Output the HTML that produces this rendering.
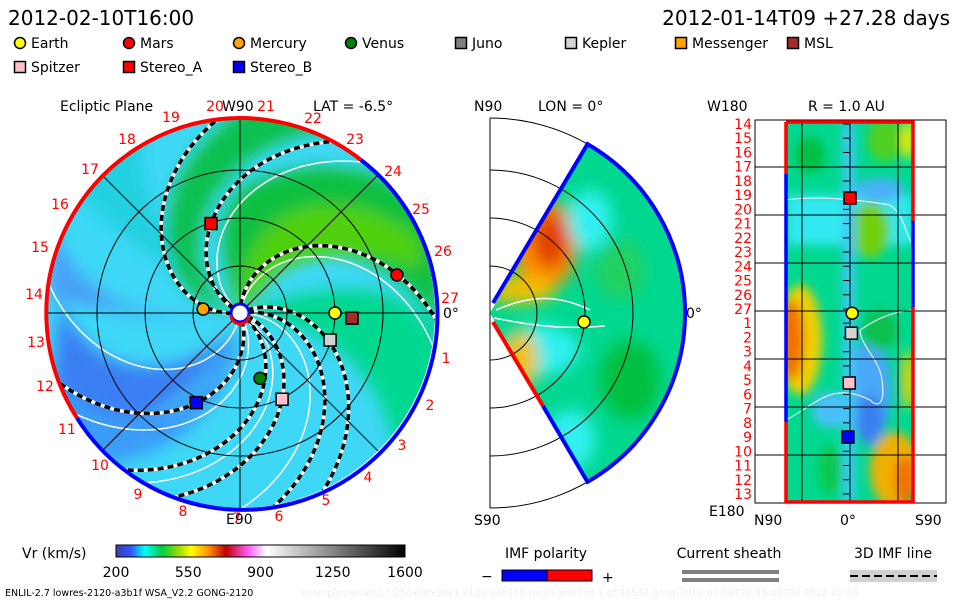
<!DOCTYPE html>
<html><head><meta charset="utf-8">
<style>
html,body{margin:0;padding:0;background:#fff;}
svg{display:block;font-family:"DejaVu Sans","Liberation Sans",sans-serif;}
</style></head>
<body>
<svg id="s" width="960" height="600" viewBox="0 0 960 600" xmlns="http://www.w3.org/2000/svg">
<defs>
<filter id="bl" x="-50%" y="-50%" width="200%" height="200%"><feGaussianBlur stdDeviation="8"/></filter>
<filter id="bl2" x="-50%" y="-50%" width="200%" height="200%"><feGaussianBlur stdDeviation="5"/></filter>
<clipPath id="cEcl"><circle cx="240" cy="313" r="195"/></clipPath>
<clipPath id="cMer"><path d="M490,313 L587.5,144.1 A195,195 0 0 1 587.5,481.9 Z"/></clipPath>
<clipPath id="cR"><rect x="786" y="122" width="127" height="380"/></clipPath>
<linearGradient id="cb" x1="0" x2="1" y1="0" y2="0">
<stop offset="0" stop-color="#4040a0"/><stop offset="0.05" stop-color="#3050ff"/>
<stop offset="0.1" stop-color="#00ffff"/><stop offset="0.16" stop-color="#00cc40"/>
<stop offset="0.22" stop-color="#a0e000"/><stop offset="0.26" stop-color="#ffff00"/>
<stop offset="0.32" stop-color="#ff9000"/><stop offset="0.38" stop-color="#c00000"/>
<stop offset="0.46" stop-color="#ff60ff"/><stop offset="0.52" stop-color="#ffffff"/>
<stop offset="1" stop-color="#000000"/>
</linearGradient>
</defs>

<text x="8" y="25" font-size="20">2012-02-10T16:00</text>
<text x="950" y="25" font-size="20" text-anchor="end">2012-01-14T09 +27.28 days</text>

<g id="legend" font-size="14"></g>

<!-- Ecliptic panel -->
<g>
<g clip-path="url(#cEcl)">
<rect x="40" y="110" width="400" height="410" fill="#3ed8f6"/>
<g filter="url(#bl)">
<path d="M240,313 C300,290 360,280 400,300 L440,330 L440,480 L400,480 C390,400 360,330 240,313 Z" fill="#00d890"/>
<path d="M240,313 C220,260 215,215 240,190 C290,160 340,165 380,175 L440,220 L440,330 C420,290 380,255 300,245 C270,255 255,280 240,313 Z" fill="#10c040"/>
<path d="M240,313 C240,270 250,240 285,215 C330,195 380,205 420,240 L420,270 C380,250 320,250 280,270 Z" fill="#50d010"/>
<path d="M60,300 C80,360 150,400 240,330 C180,420 100,440 50,420 Z" fill="#3a7ef4"/>
<path d="M50,380 C110,430 180,440 240,330 C230,420 150,480 60,460 Z" fill="#3a9cf8"/>
<path d="M50,220 C70,280 120,330 240,313 C150,330 80,300 50,300 Z" fill="#4aa0f8"/>
<path d="M60,170 C90,140 120,130 140,130 C140,200 170,260 220,300 C120,240 80,200 60,170 Z" fill="#20d0e0"/>
<g id="bands"></g>
</g>
</g>
<g id="spirals" clip-path="url(#cEcl)"></g>
<g fill="none" stroke="#000" stroke-width="1">
<circle cx="240" cy="313" r="47"/><circle cx="240" cy="313" r="95"/><circle cx="240" cy="313" r="143"/>
<line x1="45" y1="313" x2="435" y2="313"/><line x1="240" y1="118" x2="240" y2="508"/>
<line x1="102" y1="175" x2="378" y2="451"/><line x1="378" y1="175" x2="102" y2="451"/>
</g>
<path d="M234.9,118.1 A195,195 0 0 1 361,160" fill="none" stroke="#f00" stroke-width="4"/>
<path d="M361,160 A195,195 0 1 1 77,418" fill="none" stroke="#00f" stroke-width="4"/>
<path d="M77,418 A195,195 0 0 1 234.9,118.1" fill="none" stroke="#f00" stroke-width="4"/>
<circle cx="240" cy="313" r="9" fill="#fff" stroke="#00f" stroke-width="3"/>
<path d="M231,315 A9,9 0 0 0 249,315" fill="none" stroke="#f00" stroke-width="3"/>
<g id="eclLabels" font-size="14" fill="#f00"></g>
<text x="60" y="111" font-size="14">Ecliptic Plane</text>
<text x="222" y="111" font-size="14">W90</text>
<text x="313" y="111" font-size="14">LAT = -6.5°</text>
<text x="226" y="524" font-size="14">E90</text>
<text x="443" y="318" font-size="14">0°</text>
<g id="eclMarkers"></g>
</g>

<!-- Meridional panel -->
<g>
<g clip-path="url(#cMer)">
<rect x="480" y="130" width="220" height="370" fill="#00d890"/>
<g filter="url(#bl)">
<ellipse cx="545" cy="245" rx="32" ry="45" fill="#ff9000"/>
<ellipse cx="550" cy="240" rx="18" ry="28" fill="#e04000"/>
<ellipse cx="520" cy="290" rx="35" ry="14" fill="#f0c000"/>
<ellipse cx="590" cy="220" rx="22" ry="30" fill="#30f0f0"/>
<ellipse cx="540" cy="350" rx="40" ry="25" fill="#30f0f0"/>
<ellipse cx="630" cy="380" rx="30" ry="40" fill="#00c040"/>
<ellipse cx="620" cy="270" rx="25" ry="30" fill="#20d060"/>
<ellipse cx="520" cy="360" rx="18" ry="30" fill="#f0c000"/>
<ellipse cx="570" cy="440" rx="25" ry="30" fill="#30f0f0"/>
</g>
<path d="M494,318 C530,325 560,330 605,326" fill="none" stroke="#fff" stroke-width="1.5"/>
<path d="M496,310 C520,300 550,290 590,310" fill="none" stroke="#fff" stroke-width="1.5"/>
</g>
<g fill="none" stroke="#000" stroke-width="1">
<line x1="490" y1="118" x2="490" y2="508"/>
<path d="M490,266 A47,47 0 0 1 490,360"/><path d="M490,218 A95,95 0 0 1 490,408"/>
<path d="M490,170 A143,143 0 0 1 490,456"/><path d="M490,118 A195,195 0 0 1 490,508"/>
</g>
<path d="M493,303 L587.5,144.1 A195,195 0 0 1 587.5,481.9 L543,406" fill="none" stroke="#00f" stroke-width="4"/>
<path d="M493,322 L543,406" stroke="#f00" stroke-width="4"/>
<text x="474" y="111" font-size="14">N90</text>
<text x="538" y="111" font-size="14">LON = 0°</text>
<text x="474" y="525" font-size="14">S90</text>
<text x="686" y="318" font-size="14">0°</text>
<circle cx="584" cy="322" r="6" fill="#ff0" stroke="#000" stroke-width="1.5"/>
</g>

<!-- R = 1 AU panel -->
<g>
<rect x="755" y="120" width="191" height="383" fill="#fff" stroke="#000"/>
<g clip-path="url(#cR)">
<rect x="786" y="122" width="127" height="380" fill="#00d890"/>
<g filter="url(#bl2)">
<rect x="786" y="195" width="127" height="50" fill="#30e8f0"/>
<ellipse cx="870" cy="230" rx="20" ry="28" fill="#70d010"/>
<ellipse cx="810" cy="155" rx="15" ry="18" fill="#00c040"/>
<ellipse cx="885" cy="140" rx="18" ry="22" fill="#50d020"/>
<ellipse cx="908" cy="140" rx="6" ry="20" fill="#f0f000"/>
<ellipse cx="800" cy="340" rx="22" ry="55" fill="#f0d000"/>
<ellipse cx="792" cy="340" rx="12" ry="40" fill="#f07000"/>
<ellipse cx="895" cy="470" rx="25" ry="38" fill="#f0b000"/>
<ellipse cx="905" cy="480" rx="10" ry="25" fill="#f07000"/>
<ellipse cx="908" cy="380" rx="6" ry="30" fill="#f0d000"/>
<ellipse cx="870" cy="390" rx="22" ry="50" fill="#4aa8f8"/>
<ellipse cx="870" cy="420" rx="14" ry="25" fill="#3a80f0"/>
<ellipse cx="830" cy="410" rx="18" ry="18" fill="#4ac0f8"/>
<ellipse cx="830" cy="470" rx="12" ry="25" fill="#10c850"/>
<rect x="843" y="122" width="12" height="380" fill="#40c8f8"/>
<ellipse cx="880" cy="190" rx="25" ry="12" fill="#4ab0f8"/>
<ellipse cx="880" cy="330" rx="18" ry="20" fill="#10c050"/>
</g>
<path d="M786,200 C820,195 860,200 890,205 C905,215 905,235 913,245" fill="none" stroke="#fff" stroke-width="1"/>
<path d="M913,310 C890,312 875,320 860,330 C860,345 880,360 882,380 C885,400 880,410 870,400 C860,395 845,390 830,395 C815,400 805,410 786,420" fill="none" stroke="#fff" stroke-width="1"/>
</g>
<g stroke="#000" stroke-width="1">
<line x1="802" y1="120" x2="802" y2="503"/><line x1="850" y1="120" x2="850" y2="503"/><line x1="898" y1="120" x2="898" y2="503"/>
<line x1="755" y1="167" x2="946" y2="167"/><line x1="755" y1="215" x2="946" y2="215"/>
<line x1="755" y1="263" x2="946" y2="263"/><line x1="755" y1="311" x2="946" y2="311"/>
<line x1="755" y1="359" x2="946" y2="359"/><line x1="755" y1="407" x2="946" y2="407"/>
<line x1="755" y1="455" x2="946" y2="455"/>
</g>
<g fill="none" stroke-width="3.5">
<path d="M786,122 L913,122 L913,221" stroke="#f00"/>
<path d="M913,221 L913,307" stroke="#00f"/>
<path d="M913,307 L913,502 L786,502 L786,422" stroke="#f00"/>
<path d="M786,422 L786,174" stroke="#00f"/>
<path d="M786,174 L786,122" stroke="#f00"/>
</g>
<g id="rLabels" font-size="14" fill="#f00"></g>
<text x="808" y="111" font-size="14">R = 1.0 AU</text>
<text x="707" y="111" font-size="14">W180</text>
<text x="709" y="516" font-size="14">E180</text>
<text x="754" y="525" font-size="14">N90</text>
<text x="840" y="525" font-size="14">0°</text>
<text x="915" y="525" font-size="14">S90</text>
<g id="rMarkers"></g>
</g>

<!-- Bottom legends -->
<text x="22" y="558" font-size="14">Vr (km/s)</text>
<rect x="116" y="545" width="289" height="12" fill="url(#cb)" stroke="#000"/>
<g id="cbTicks" font-size="14" text-anchor="middle"></g>
<text x="5" y="596" font-size="9.5">ENLIL-2.7 lowres-2120-a3b1f WSA_V2.2 GONG-2120</text>
<text x="301" y="596" font-size="9.5" fill="#eee">examples/wsafr2.7/256x30x90x1.2120-a3b1f.8-mcp1umn1cd-1.g53q5d2.gong-2012:01:09T22:35:00T00    2012-02-06</text>
<text x="546" y="558" font-size="14" text-anchor="middle">IMF polarity</text>
<text x="481" y="581" font-size="14">−</text>
<rect x="502" y="570" width="45" height="11" fill="#00f" stroke="#000"/>
<rect x="547" y="570" width="45" height="11" fill="#f00" stroke="#000"/>
<text x="602" y="582" font-size="14">+</text>
<text x="729" y="558" font-size="14" text-anchor="middle">Current sheath</text>
<rect x="682" y="570" width="97" height="4" fill="#808080"/>
<rect x="682" y="578" width="97" height="4" fill="#808080"/>
<text x="893" y="558" font-size="14" text-anchor="middle">3D IMF line</text>
<rect x="850" y="570" width="87" height="12" fill="#d0d0d0"/>
<line x1="850" y1="576" x2="937" y2="576" stroke="#000" stroke-width="2" stroke-dasharray="8,4"/>
</svg>
<script>
const NS='http://www.w3.org/2000/svg';
const legendNames=['Earth','Mars','Mercury','Venus','Juno','Kepler','Messenger','MSL','Spitzer','Stereo_A','Stereo_B'];
const legendColors=['#ffff00','#ff0000','#ffa500','#008000','#808080','#d3d3d3','#ffa500','#a52a2a','#ffc0cb','#ff0000','#0000ff'];
const legendShapes=['c','c','c','c','s','s','s','s','s','s','s'];
// Planet/spacecraft positions in ecliptic plane (AU, longitude deg)
const eclNames=['Mercury','Venus','Earth','Mars','Stereo_A','Stereo_B','MSL','Kepler','Spitzer'];
const eclR=[0.39,0.72,1.0,1.70,0.99,1.05,1.18,0.99,1.01];
const eclLon=[174,-73,0,13.6,108,-116,-2.6,-16.7,-64];
// Spiral start angles (deg, screen)
const sheetStart=[174,-151,-88,-25,-10,20,70,37];
const whiteStart=[-140,-80,30,60,0,100];
// Fast-wind (green) band start/end spiral angles
const bandStart=[178];
const bandEnd=[203];
const carrLabels=['20','21','22','23','24','25','26','27','1','2','3','4','5','6','7','8','9','10','11','12','13','14','15','16','17','18','19'];
const carrX=[215,266,313,355,393,421,443,450,446,430,402,368,326,279,237,183,138,100,67,45,36,34,40,60,90,127,171];
const carrY=[111,111,123,144,176,214,256,303,363,410,450,482,505,521,523,516,499,470,434,391,347,299,252,209,174,144,122];
const rLabels=['14','15','16','17','18','19','20','21','22','23','24','25','26','27','1','2','3','4','5','6','7','8','9','10','11','12','13'];
const rMarkNames=['Stereo_A','Earth','Kepler','Spitzer','Stereo_B'];
const rMarkLat=[0,-3,-2,1,3];
const rMarkLonIdx=[5.2,13.3,14.7,18.2,22.0];
const cbTicks=[200,550,900,1250,1600];

function el(tag,attrs,parent){const e=document.createElementNS(NS,tag);for(const k in attrs)e.setAttribute(k,attrs[k]);parent.appendChild(e);return e;}
function marker(parent,x,y,color,shape,size){
  if(shape==='c') return el('circle',{cx:x,cy:y,r:size/2,fill:color,stroke:'#000','stroke-width':1.5},parent);
  return el('rect',{x:x-size/2,y:y-size/2,width:size,height:size,fill:color,stroke:'#000','stroke-width':1.5},parent);
}
const lg=document.getElementById('legend');
const lgX=[14,123,233,345,455,565,675,787,14,123,233];
legendNames.forEach((n,i)=>{
  const row=i<8?0:1;const y=row?72:48;
  const g=el('g',{},lg);
  
  
  marker(g,lgX[i]+6,y-5,legendColors[i],legendShapes[i],11);
  const t=el('text',{x:lgX[i]+17,y:y},g);t.textContent=n;
});
const cx=240,cy=313,pxAU=95;
const xE=(r,lon)=>cx+r*pxAU*Math.cos(lon*Math.PI/180);
const yE=(r,lon)=>cy-r*pxAU*Math.sin(lon*Math.PI/180);
function spiralPts(a0){const pts=[];for(let r=8;r<=240;r+=3){const a=a0*Math.PI/180+r*0.008;pts.push([cx+r*Math.cos(a),cy+r*Math.sin(a)]);}return pts;}
function spiralPath(a0){return spiralPts(a0).map((p,i)=>(i?'L':'M')+p[0].toFixed(1)+','+p[1].toFixed(1)).join('');}
const bands=document.getElementById('bands');
bandStart.forEach((a,i)=>{
  const p1=spiralPts(a),p2=spiralPts(bandEnd[i]).reverse();
  const d=p1.concat(p2).map((p,j)=>(j?'L':'M')+p[0].toFixed(1)+','+p[1].toFixed(1)).join('')+'Z';
  const b=el('path',{d:d,fill:'#10c050'},bands);
  
  
});
const sp=document.getElementById('spirals');
whiteStart.forEach((a)=>{const p=el('path',{d:spiralPath(a),fill:'none',stroke:'#fff','stroke-width':1.5},sp);

});
sheetStart.forEach((a)=>{
  el('path',{d:spiralPath(a),fill:'none',stroke:'#fff','stroke-width':3.5},sp);
  const p=el('path',{d:spiralPath(a),fill:'none',stroke:'#000','stroke-width':3.5,'stroke-dasharray':'6,4'},sp);
  
  
});
const lab=document.getElementById('eclLabels');
carrLabels.forEach((t,i)=>{const e=el('text',{x:carrX[i],y:carrY[i],'text-anchor':'middle'},lab);e.textContent=t;

});
const em=document.getElementById('eclMarkers');
eclNames.forEach((n,i)=>{const k=legendNames.indexOf(n);
  const m=marker(em,xE(eclR[i],eclLon[i]),yE(eclR[i],eclLon[i]),legendColors[k],legendShapes[k],12);
  
  
});
const rl=document.getElementById('rLabels');
const yR=idx=>124+idx*14.23;
const xR=lat=>850-lat*(64/90);
rLabels.forEach((t,i)=>{const e=el('text',{x:752,y:yR(i)+5,'text-anchor':'end'},rl);e.textContent=t;


el('line',{x1:843,x2:850,y1:yR(i),y2:yR(i),stroke:'#000'},rl);});
const rm=document.getElementById('rMarkers');
rMarkNames.forEach((n,i)=>{const k=legendNames.indexOf(n);
  const m=marker(rm,xR(rMarkLat[i]),yR(rMarkLonIdx[i]),legendColors[k],legendShapes[k],12);
  
  
});
const cbt=document.getElementById('cbTicks');
const xCb=v=>116+(v-200)/1400*289;
cbTicks.forEach(v=>{const e=el('text',{x:xCb(v),y:577},cbt);e.textContent=v;

});
</script>
</body></html>
